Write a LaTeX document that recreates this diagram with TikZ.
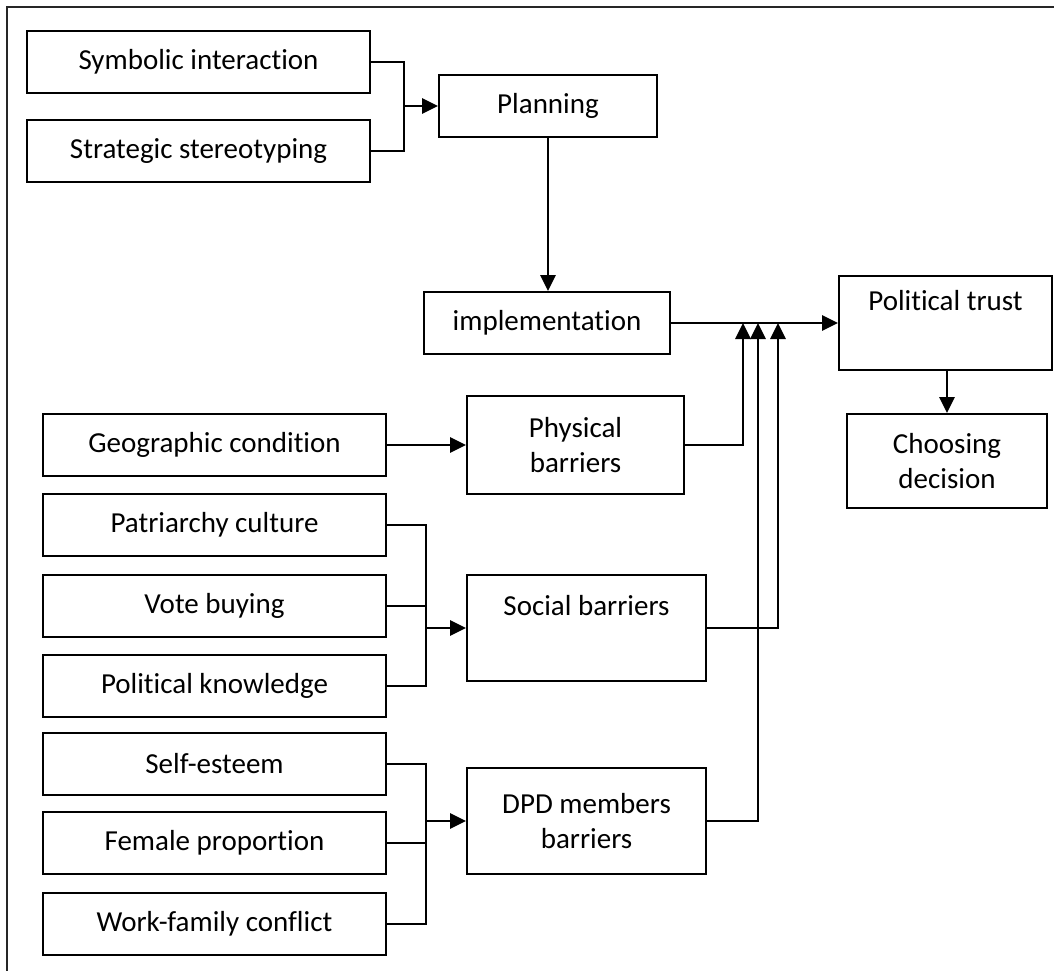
\documentclass[tikz,border=0pt]{standalone}
\usepackage{fontspec}
\setmainfont{Carlito}[RawFeature={-liga;-dlig;-calt}]
\usetikzlibrary{arrows.meta}
\begin{document}
\begin{tikzpicture}[x=1pt,y=-1pt,
  box/.style={draw=black,line width=1.8pt,rectangle,inner sep=0pt,align=center,
    font=\fontsize{29}{35}\selectfont},
  conn/.style={draw=black,line width=2.8pt},
  arr/.style={conn,-{Triangle[length=16pt,width=15pt]}}]
\useasboundingbox (0,0) rectangle (1054,971);
% frame (top and left only)
\draw[line width=1.5pt,black!85] (1054,7) -- (7,7) -- (7,971);
% boxes placed by their corners
\newcommand{\mybox}[6]{\node[box,minimum width={#4-#2},minimum height={#5-#3}] (#1) at ({(#2+#4)/2},{(#3+#5)/2}) {#6};}
\mybox{sym}{27}{31}{370}{93}{Symbolic interaction}
\mybox{str}{27}{120}{370}{182}{Strategic stereotyping}
\mybox{plan}{439}{75}{657}{137}{Planning}
\mybox{impl}{424}{292}{670}{354}{implementation}
\mybox{trust}{839}{276}{1052}{370}{Political trust\\[0pt]\strut}
\mybox{choose}{847}{414}{1047}{508}{Choosing\\decision}
\mybox{geo}{43}{414}{386}{476}{Geographic condition}
\mybox{phys}{467}{396}{684}{494}{Physical\\barriers}
\mybox{patr}{43}{494}{386}{556}{Patriarchy culture}
\mybox{vote}{43}{575}{386}{637}{Vote buying}
\mybox{know}{43}{655}{386}{717}{Political knowledge}
\mybox{social}{467}{575}{706}{681}{Social barriers\\[0pt]\strut}
\mybox{self}{43}{733}{386}{795}{Self-esteem}
\mybox{female}{43}{812}{386}{874}{Female proportion}
\mybox{work}{43}{893}{386}{955}{Work-family conflict}
\mybox{dpd}{467}{768}{706}{874}{DPD members\\barriers}
% junction coordinates
\coordinate (m1) at (404,106);
\coordinate (m2) at (426,628);
\coordinate (m3) at (426,821);
\coordinate (j1) at (743,323);
\coordinate (j2) at (758,323);
\coordinate (j3) at (778,323);
% connectors
\draw[conn] (sym.east) -| (m1) |- (str.east);
\draw[arr] (m1) -- (plan.west);
\draw[arr] (plan.south) -- (impl.north -| plan.south);
\draw[arr] (impl.east) -- (trust.west);
\draw[arr] (trust.south -| choose.north) -- (choose.north);
\draw[arr] (geo.east) -- (geo.east -| phys.west);
\draw[arr] (phys.east) -| (j1);
\draw[arr] (social.east) -| (j3);
\draw[arr] (dpd.east) -| (j2);
\draw[conn] (patr.east) -| (m2) |- (know.east);
\draw[conn] (vote.east) -- (vote.east -| m2);
\draw[arr] (m2) -- (social.west);
\draw[conn] (self.east) -| (m3) |- (work.east);
\draw[conn] (female.east) -- (female.east -| m3);
\draw[arr] (m3) -- (dpd.west);
\end{tikzpicture}
\end{document}
